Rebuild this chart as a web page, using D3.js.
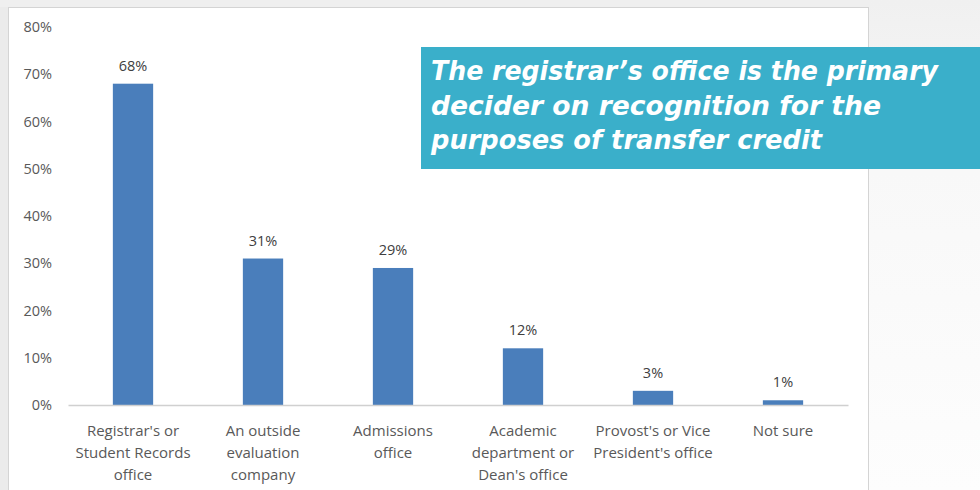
<!DOCTYPE html>
<html>
<head>
<meta charset="utf-8">
<script src="https://cdn.jsdelivr.net/npm/d3@7"></script>
<style>
  html, body { margin: 0; padding: 0; background: #f0f0f0; }
  svg { display: block; }
</style>
</head>
<body>
<svg id="chart" width="980" height="490"></svg>
<script>
// Who decides on recognition for transfer credit (share of respondents)
const categories = [
  ["Registrar's or", "Student Records", "office"],
  ["An outside", "evaluation", "company"],
  ["Admissions", "office"],
  ["Academic", "department or", "Dean's office"],
  ["Provost's or Vice", "President's office"],
  ["Not sure"]
];
const values = [68, 31, 29, 12, 3, 1];
const yTicks = [0, 10, 20, 30, 40, 50, 60, 70, 80];
const calloutLines = [
  "The registrar\u2019s office is the primary",
  "decider on recognition for the",
  "purposes of transfer credit"
];

const svg = d3.select("#chart");
const W = 980, H = 490;

// page background: grey at the top, fading to near white further down
const defs = svg.append("defs");
const grad = defs.append("linearGradient").attr("id", "bg").attr("x1", 0).attr("x2", 0).attr("y1", 0).attr("y2", 1);
grad.append("stop").attr("offset", "0%").attr("stop-color", "#f0f0f0");
grad.append("stop").attr("offset", "35%").attr("stop-color", "#f8f8f8");
grad.append("stop").attr("offset", "100%").attr("stop-color", "#fdfdfd");
svg.append("rect").attr("width", W).attr("height", H).attr("fill", "url(#bg)");
svg.append("rect").attr("width", 8).attr("height", H).attr("fill", "#ebebeb");
svg.append("rect").attr("width", 870).attr("height", 7).attr("fill", "#efefef");

// white chart panel
svg.append("rect")
  .attr("x", 8.5).attr("y", 7.5).attr("width", 860).attr("height", 500)
  .attr("fill", "#ffffff").attr("stroke", "#d4d4d4").attr("stroke-width", 1);

const x = d3.scaleBand().domain(d3.range(categories.length)).range([68, 848]).paddingInner(0.69).paddingOuter(0.345);
const y = d3.scaleLinear().domain([0, 80]).range([405, 27]);

const font = "'Open Sans', 'Liberation Sans', sans-serif";

// y axis labels (no axis line)
const yAxis = d3.axisLeft(y).tickValues(yTicks).tickFormat(d => d + "%").tickSize(0).tickPadding(0);
const gy = svg.append("g").attr("transform", "translate(52,0)").call(yAxis);
gy.select(".domain").remove();
gy.selectAll("text").attr("fill", "#595959").style("font-family", font).style("font-size", "14.5px");

// bars
svg.append("g").selectAll("rect").data(values).join("rect")
  .attr("x", (d, i) => x(i))
  .attr("y", d => y(d))
  .attr("width", x.bandwidth())
  .attr("height", d => y(0) - y(d))
  .attr("fill", "#4a7ebb");

// baseline
const xAxis = d3.axisBottom(x).tickSize(0).tickFormat("");
const gx = svg.append("g").attr("transform", `translate(0,${y(0)})`).call(xAxis);
gx.select(".domain").attr("stroke", "#d0d0d0").attr("stroke-width", 1.5);

// value labels
svg.append("g").selectAll("text").data(values).join("text")
  .attr("x", (d, i) => x(i) + x.bandwidth() / 2)
  .attr("y", d => y(d) - 13)
  .attr("text-anchor", "middle")
  .attr("fill", "#404040")
  .style("font-family", font).style("font-size", "14.5px")
  .text(d => d + "%");

// category labels
const cat = svg.append("g").selectAll("text").data(categories).join("text")
  .attr("x", (d, i) => x(i) + x.bandwidth() / 2)
  .attr("y", 436)
  .attr("text-anchor", "middle")
  .attr("fill", "#595959")
  .style("font-family", font).style("font-size", "15px");
cat.selectAll("tspan").data(d => d).join("tspan")
  .attr("x", function () { return d3.select(this.parentNode).attr("x"); })
  .attr("dy", (d, i) => i === 0 ? 0 : 22)
  .text(d => d);

// callout box
svg.append("rect").attr("x", 421).attr("y", 47).attr("width", W - 421).attr("height", 122).attr("fill", "#3aafca");
const lineEnds = [938, 881, 822];
const callout = svg.append("g").selectAll("text").data(calloutLines).join("text")
  .attr("x", 431)
  .attr("y", (d, i) => 80 + i * 34.5)
  .attr("fill", "#ffffff")
  .style("font-family", "'DejaVu Sans', sans-serif")
  .style("font-style", "italic")
  .style("font-weight", "bold")
  .style("font-size", "27px")
  .text(d => d);
callout.each(function (d, i) {
  d3.select(this).attr("textLength", lineEnds[i] - 431).attr("lengthAdjust", "spacingAndGlyphs");
});
</script>
</body>
</html>
